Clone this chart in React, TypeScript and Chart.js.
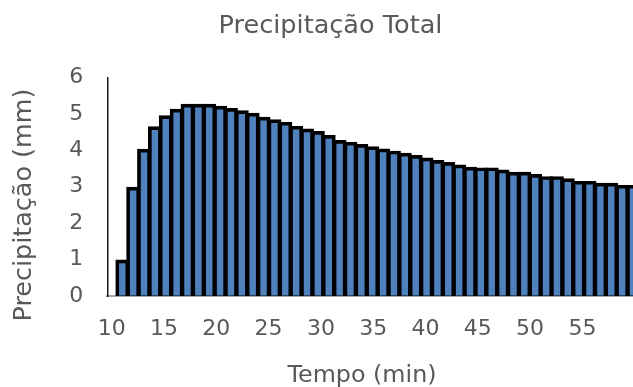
import React, { useEffect, useRef } from "react";
import { Chart, registerables } from "chart.js";

Chart.register(...registerables);

// Rainfall per minute
const minutes = [
  11, 12, 13, 14, 15, 16, 17, 18, 19, 20, 21, 22, 23, 24, 25, 26,
  27, 28, 29, 30, 31, 32, 33, 34, 35, 36, 37, 38, 39, 40, 41, 42,
  43, 44, 45, 46, 47, 48, 49, 50, 51, 52, 53, 54, 55, 56, 57, 58,
];
const precipitation = [
  0.96, 2.96, 4.0, 4.62, 4.92, 5.1, 5.24, 5.24, 5.24, 5.18, 5.12, 5.06, 4.99, 4.88, 4.81, 4.74,
  4.63, 4.56, 4.49, 4.38, 4.24, 4.19, 4.13, 4.07, 4.01, 3.95, 3.89, 3.83, 3.76, 3.69, 3.64, 3.57,
  3.51, 3.49, 3.49, 3.43, 3.37, 3.37, 3.31, 3.25, 3.25, 3.19, 3.12, 3.12, 3.07, 3.07, 3.01, 3.01,
];
const xTickValues = [10, 15, 20, 25, 30, 35, 40, 45, 50, 55];
const yTickValues = [0, 1, 2, 3, 4, 5, 6];

const chartTitle = "Precipitação Total";
const xAxisTitle = "Tempo (min)";
const yAxisTitle = "Precipitação (mm)";

const TEXT_GREY = "#595959";
const FAMILY = "'DejaVu Sans', sans-serif";
const TICK_FONT = { family: FAMILY, size: 22 };

// Pick a font size so the text spans the wanted width
function fitFont(ctx: CanvasRenderingContext2D, text: string, width: number, base: number) {
  ctx.font = `${base}px ${FAMILY}`;
  const measured = ctx.measureText(text).width || width;
  const size = Math.max(base * 0.85, Math.min(base * 1.2, (base * width) / measured));
  ctx.font = `${size.toFixed(2)}px ${FAMILY}`;
}

// Chart title and axis titles, drawn after the plot
const titlesPlugin = {
  id: "chartTitles",
  afterDraw(chart: any) {
    const { ctx } = chart;
    ctx.save();
    ctx.fillStyle = TEXT_GREY;
    ctx.textAlign = "center";
    ctx.textBaseline = "alphabetic";
    fitFont(ctx, chartTitle, 224, 22.5);
    ctx.fillText(chartTitle, 330.5, 33);
    fitFont(ctx, xAxisTitle, 149, 23);
    ctx.fillText(xAxisTitle, 362, 382);
    fitFont(ctx, yAxisTitle, 233, 23);
    ctx.translate(31, 205);
    ctx.rotate(-Math.PI / 2);
    ctx.fillText(yAxisTitle, 0, 0);
    ctx.restore();
  },
};

export default function App() {
  const canvasRef = useRef<HTMLCanvasElement | null>(null);

  useEffect(() => {
    if (!canvasRef.current) return;
    const chart = new Chart(canvasRef.current, {
      type: "bar",
      data: {
        datasets: [
          {
            data: minutes.map((m, i) => ({ x: m, y: precipitation[i] })),
            backgroundColor: "#4F81BD",
            borderColor: "#000000",
            borderWidth: { top: 3.7, left: 3.7, right: 3.7, bottom: 2 },
            borderSkipped: false,
            inflateAmount: 1.5,
            barPercentage: 1,
            categoryPercentage: 1,
          },
        ],
      },
      options: {
        responsive: false,
        animation: false,
        devicePixelRatio: 1,
        layout: { padding: { top: 77.5, left: 0, right: 0, bottom: 0 } },
        plugins: {
          legend: { display: false },
          title: { display: false },
          tooltip: { enabled: false },
        },
        scales: {
          x: {
            type: "linear",
            display: false,
            min: 9.62,
            max: 58,
            offset: false,
          },
          xt: {
            type: "linear",
            axis: "x",
            position: "bottom",
            min: 9.58,
            max: 59.84,
            offset: false,
            grid: { display: false, drawTicks: false },
            border: { display: true, color: "#a6a6a6", width: 2 },
            ticks: {
              color: TEXT_GREY,
              font: TICK_FONT,
              padding: 20,
              maxRotation: 0,
              autoSkip: false,
            },
            afterBuildTicks: (s: any) => {
              s.ticks = xTickValues.map((v) => ({ value: v }));
            },
            afterFit: (s: any) => {
              s.height = 91;
            },
          },
          y: {
            type: "linear",
            min: 0,
            max: 6,
            grid: { display: false, drawTicks: false },
            border: { display: true, color: "#1a1a1a", width: 1.5 },
            ticks: {
              color: TEXT_GREY,
              font: TICK_FONT,
              padding: 24,
            },
            afterBuildTicks: (s: any) => {
              s.ticks = yTickValues.map((v) => ({ value: v }));
            },
            afterFit: (s: any) => {
              s.width = 107.3;
            },
          },
        },
      },
      plugins: [titlesPlugin],
    });
    return () => chart.destroy();
  }, []);

  return (
    <div
      style={{
        position: "fixed",
        left: 0,
        top: 0,
        width: 633,
        height: 387,
        overflow: "hidden",
        background: "#ffffff",
      }}
    >
      <canvas ref={canvasRef} width={633} height={387} style={{ display: "block" }} />
    </div>
  );
}
